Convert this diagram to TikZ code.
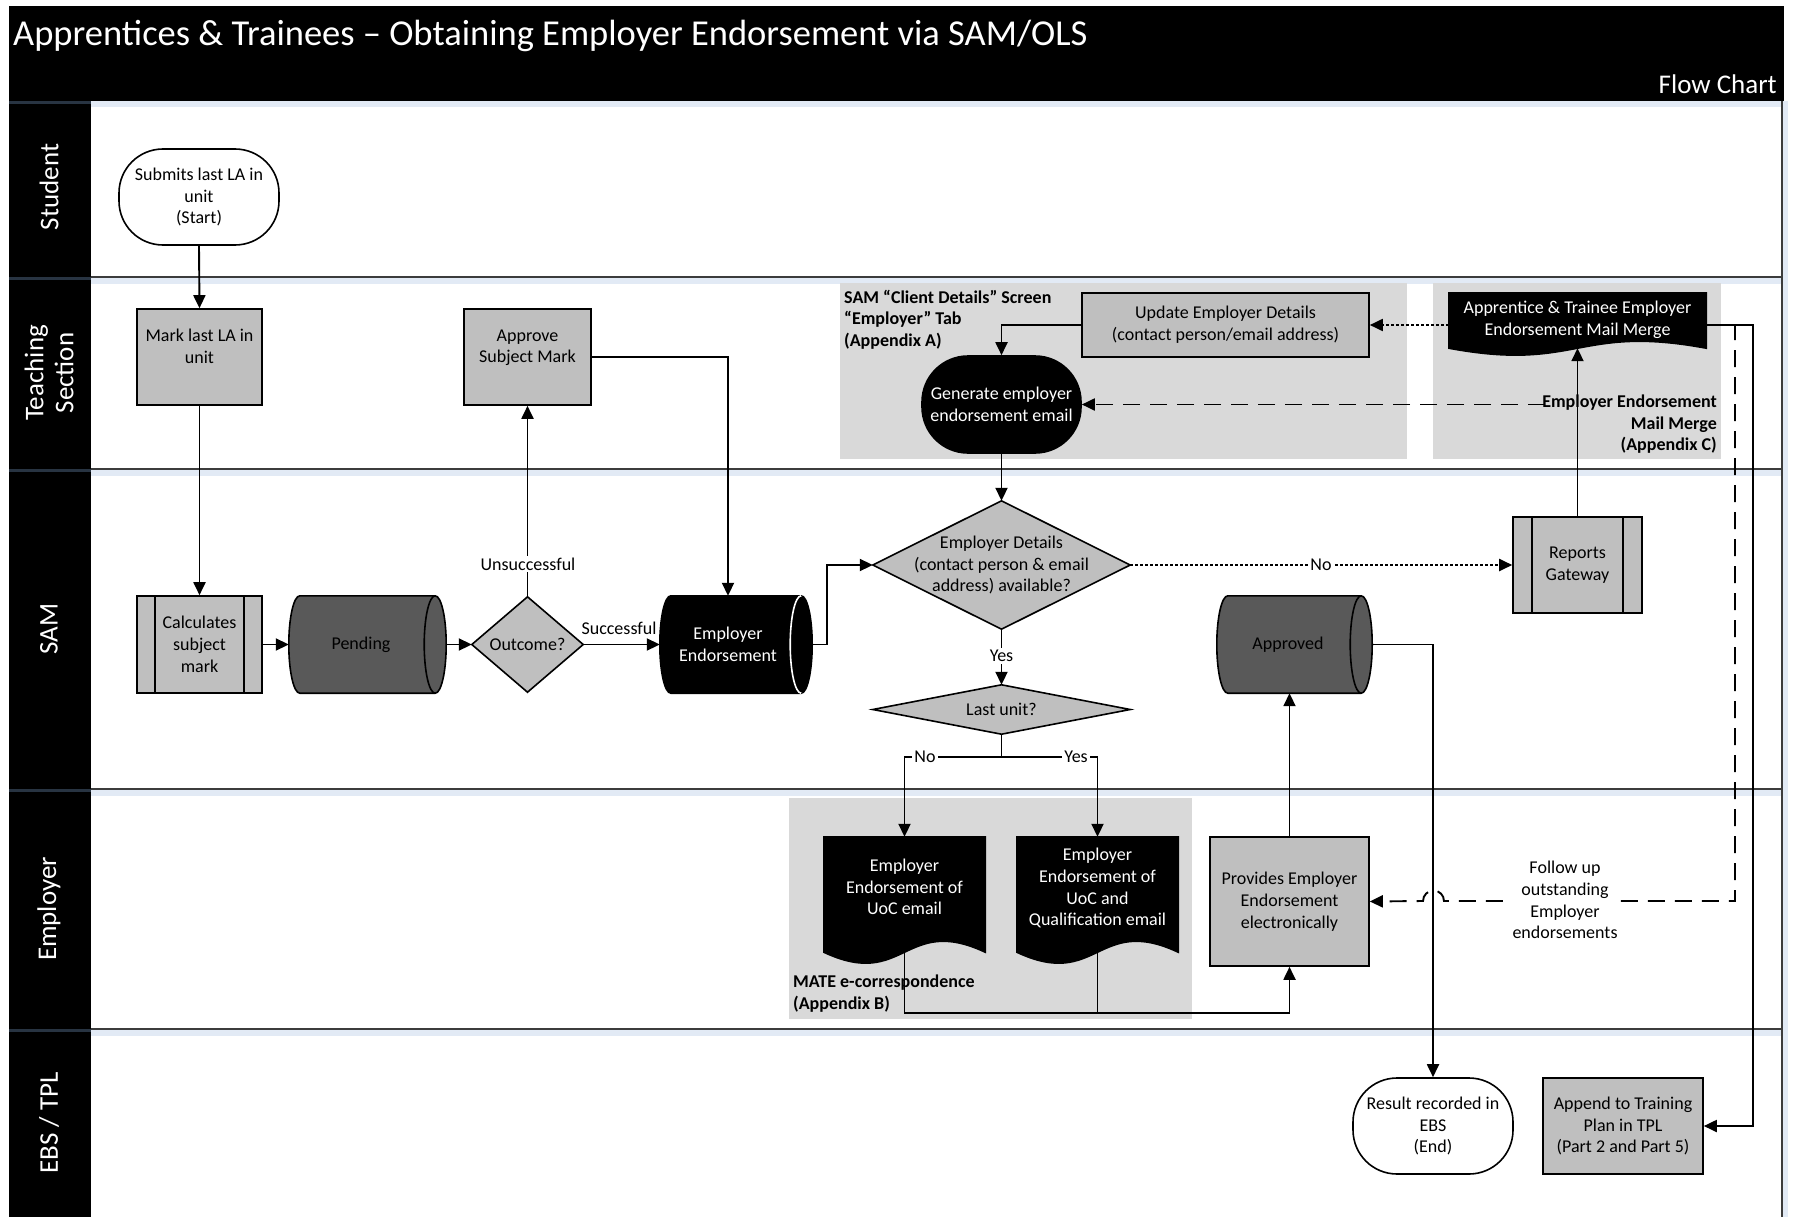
\documentclass[tikz,border=0pt]{standalone}
\usepackage{fontspec}
\setmainfont{Carlito}
\usetikzlibrary{arrows.meta,calc}
\definecolor{boxgray}{RGB}{191,191,191}
\definecolor{grpgray}{RGB}{217,217,217}
\definecolor{darkcyl}{RGB}{89,89,89}
\definecolor{laneline}{RGB}{60,60,60}
\definecolor{shadowblue}{RGB}{226,234,245}
\definecolor{hdrsep}{RGB}{40,52,66}
\pgfdeclarelayer{back}
\pgfdeclarelayer{bg}
\pgfsetlayers{back,bg,main}

\newcommand\cylshape[3]{%
  \draw[fill=#2, draw=black, line width=1.6pt] let \p1=(#1.north west), \p2=(#1.south east), \n1={(\y1-\y2)/2} in
    (\x1+11pt,\y1) -- (\x2-11pt,\y1)
    arc[start angle=90, end angle=-90, x radius=11pt, y radius=\n1]
    -- (\x1+11pt,\y2)
    arc[start angle=270, end angle=90, x radius=11pt, y radius=\n1]
    -- cycle;
  \draw[draw=#3, line width=1.6pt] let \p1=(#1.north west), \p2=(#1.south east), \n1={(\y1-\y2)/2} in
    (\x2-11pt,\y1) arc[start angle=90, end angle=270, x radius=11pt, y radius=\n1];
}
\newcommand\docshape[3]{%
  \draw[fill=#2, draw=black, line width=1.6pt] let \p1=(#1.north west), \p2=(#1.south east), \n1={(\x1+\x2)/2} in
    (\x1,\y1) -- (\x2,\y1) -- (\x2,\y2) .. controls (\n1,\y2+#3) and (\n1,\y2-#3) .. (\x1,\y2) -- cycle;
}
\newcommand\diashape[1]{%
  \draw[fill=boxgray, draw=black, line width=1.6pt] (#1.north) -- (#1.east) -- (#1.south) -- (#1.west) -- cycle;
}

\begin{document}
\begin{tikzpicture}[x=1pt,y=-1pt,
  every node/.style={font=\fontsize{18}{21.7}\selectfont, align=center, inner sep=0pt},
  shp/.style={draw=black, line width=1.6pt},
  gbox/.style={shp, fill=boxgray},
  term/.style={shp, rounded corners=44pt, fill=white},
  conn/.style={line width=1.9pt, -{Triangle[length=13pt,width=12pt]}},
  plain/.style={line width=1.9pt},
  dashedline/.style={dash pattern=on 17pt off 10pt},
  dottedline/.style={dash pattern=on 2.5pt off 2.5pt},
  clab/.style={fill=white, inner sep=2pt},
  grplab/.style={font=\bfseries\fontsize{18}{21.5}\selectfont},
  lanelab/.style={text=white, rotate=90, font=\fontsize{27}{30}\selectfont}]

\useasboundingbox (0,0) rectangle (1793,1217);

% ---------- background / lanes ----------
\begin{pgfonlayer}{back}
  \fill[white] (0,0) rectangle (1793,1217);
  \fill[black] (9,6) rectangle (1784,101);
  \fill[shadowblue] (91,101) rectangle (1782,107);
  \foreach \yy in {277,469,789,1029} {
    \fill[shadowblue] (91,\yy) rectangle (1782,\yy+7);
    \draw[laneline, line width=1.8pt] (91,\yy) -- (1782,\yy);
  }
  \fill[shadowblue] (1782,101) rectangle (1788,1217);
  \draw[laneline, line width=1.8pt] (1782,101) -- (1782,1217);
  \fill[black] (9,101) rectangle (91,1217);
  \foreach \yy in {101,277,469,789,1029} {
    \draw[hdrsep, line width=3pt] (9,\yy+1.5) -- (91,\yy+1.5);
  }
  \fill[grpgray] (840,283) rectangle (1407,459);
  \fill[grpgray] (1433,283) rectangle (1721,459);
  \fill[grpgray] (789,798) rectangle (1192,1019);
\end{pgfonlayer}

% ---------- titles ----------
\node[text=white, anchor=west, font=\fontsize{36.5}{42}\selectfont] (title) at (13,36) {Apprentices \& Trainees – Obtaining Employer Endorsement via SAM/OLS};
\node[text=white, anchor=east, font=\fontsize{27}{30}\selectfont] (fc) at (1777,84) {Flow Chart};

\node[lanelab] (lStudent) at (49,187) {Student};
\node[lanelab] (lTeach) at (49,373) {Teaching\\Section};
\node[lanelab] (lSAM) at (49,629) {SAM};
\node[lanelab] (lEmp) at (49,909) {Employer};
\node[lanelab] (lEBS) at (49,1123) {EBS / TPL};

% ---------- group labels ----------
\node[grplab, anchor=north west, align=left] (gA) at (844,290) {SAM “Client Details” Screen\\“Employer” Tab\\(Appendix A)};
\node[grplab, anchor=north east, align=right] (gC) at (1717,395) {Employer Endorsement\\Mail Merge\\(Appendix C)};
\node[grplab, anchor=north west, align=left] (gB) at (793,975) {MATE e-correspondence\\(Appendix B)};

% ---------- nodes ----------
\node[term, minimum width=160pt, minimum height=96pt] (start) at (199,197) {Submits last LA in\\unit\\(Start)};
\node[gbox, minimum width=125pt, minimum height=96pt] (mark) at (199.5,357) {Mark last LA in\\unit\\\mbox{}};
\node[gbox, minimum width=127pt, minimum height=96pt] (approve) at (527.5,357) {Approve\\Subject Mark\\\mbox{}};
\node[gbox, minimum width=125pt, minimum height=97pt] (calc) at (199.5,644.5) {Calculates\\subject\\mark};
\draw[shp] ([xshift=19pt]calc.north west) -- ([xshift=19pt]calc.south west);
\draw[shp] ([xshift=-19pt]calc.north east) -- ([xshift=-19pt]calc.south east);

\node[minimum width=157pt, minimum height=97pt] (pending) at (367.5,644.5) {};
\node (tpending) at (361,644.5) {Pending};
\node[minimum width=111pt, minimum height=95pt] (outcome) at (527.5,644.5) {Outcome?};
\node[minimum width=152pt, minimum height=97pt] (empend) at (736,644.5) {};
\node[text=white] (tempend) at (728,644.5) {Employer\\Endorsement};

\node[minimum width=257pt, minimum height=128pt] (edet) at (1001.5,565) {Employer Details\\(contact person \& email\\address) available?};
\node[minimum width=257pt, minimum height=49pt] (lastu) at (1001.5,709.5) {Last unit?};

\node[gbox, minimum width=129pt, minimum height=96pt] (reports) at (1577.5,565) {Reports\\Gateway};
\draw[shp] ([xshift=20pt]reports.north west) -- ([xshift=20pt]reports.south west);
\draw[shp] ([xshift=-20pt]reports.north east) -- ([xshift=-20pt]reports.south east);

\node[minimum width=155pt, minimum height=97pt] (approved) at (1294.5,644.5) {};
\node (tapproved) at (1288,644.5) {Approved};

\node[gbox, minimum width=287pt, minimum height=64pt] (update) at (1225.5,325) {Update Employer Details\\(contact person/email address)};
\node[shp, fill=black, text=white, rounded corners=46pt, minimum width=159pt, minimum height=97pt] (gen) at (1001.5,404.5) {Generate employer\\endorsement email};

\node[text=white, minimum width=257pt, minimum height=55pt] (mm) at (1577.5,320.5) {Apprentice \& Trainee Employer\\Endorsement Mail Merge\\[-17pt]};

\node[text=white, minimum width=161pt, minimum height=115pt] (doc1) at (904.5,894.5) {Employer\\Endorsement of\\UoC email\\[-6.7pt]};
\node[text=white, minimum width=161pt, minimum height=115pt] (doc2) at (1097.5,894.5) {Employer\\Endorsement of\\UoC and\\Qualification email\\[-6.7pt]};

\node[gbox, minimum width=159pt, minimum height=129pt] (provides) at (1289.5,901.5) {Provides Employer\\Endorsement\\electronically};

\node[term, minimum width=160pt, minimum height=96pt] (result) at (1433,1126) {Result recorded in\\EBS\\(End)};
\node[gbox, minimum width=160pt, minimum height=96pt] (append) at (1623,1126) {Append to Training\\Plan in TPL\\(Part 2 and Part 5)};

% ---------- custom shapes ----------
\begin{pgfonlayer}{bg}
  \cylshape{pending}{darkcyl}{black}
  \cylshape{empend}{black}{white}
  \cylshape{approved}{darkcyl}{black}
  \diashape{outcome}
  \diashape{edet}
  \diashape{lastu}
  \docshape{mm}{black}{24pt}
  \docshape{doc1}{black}{38pt}
  \docshape{doc2}{black}{38pt}
\end{pgfonlayer}

% ---------- connectors ----------
\draw[conn] (start.south) -- (mark.north);
\draw[conn] (mark.south) -- (calc.north);
\draw[conn] (calc.east) -- (pending.west);
\draw[conn] (pending.east) -- (outcome.west);
\draw[conn] (outcome.north) -- (approve.south);
\node[clab] (lunsucc) at (528,564) {Unsuccessful};
\draw[conn] (outcome.east) -- (empend.west);
\node (lsucc) at (619,628) {Successful};
\draw[conn] (approve.east) -| ([xshift=-8pt]empend.north);
\draw[conn] (empend.east) -- ++(15,0) |- (edet.west);
\draw[conn] (update.west) -| (gen.north);
\draw[conn] (gen.south) -- (edet.north);
\draw[conn, dottedline] (edet.east) -- (reports.west);
\node[clab] (lno1) at (1321,565) {No};
\draw[conn] (edet.south) -- (lastu.north);
\node[clab] (lyes1) at (1001.5,656) {Yes};
\coordinate (lub) at (1001.5,757);
\draw[plain] (lastu.south) -- (lub);
\draw[conn] (lub) -| (doc1.north);
\draw[conn] (lub) -| (doc2.north);
\node[clab] (lno2) at (925,757) {No};
\node[clab] (lyes2) at (1076,757) {Yes};

\coordinate (join) at (1289.5,1013);
\draw[conn] (doc1.south) |- (join) -- (provides.south);
\draw[plain] (doc2.south) -- (doc2.south |- join);
\draw[conn] (provides.north) -- (provides.north |- approved.south);
\draw[conn] (approved.east) -| (result.north);
\draw[conn] (reports.north) -- (mm.south);
\draw[conn, dottedline] (mm.west |- update.east) -- (update.east);
\coordinate (mmr) at (1753,1126);
\draw[conn] (mm.east |- update.east) -| (mmr) -- (append.east);
\coordinate (fuc) at (1735,901);
\coordinate (jmp) at (1444,901);
\draw[conn, dashedline] (mm.east |- update.east) -| (fuc) -- (jmp) arc[start angle=0, end angle=180, radius=10.5pt] -- (provides.east);
\coordinate (mmlab) at (1545,404.5);
\draw[conn, dashedline] (mmlab) -- (gen.east);
\node[clab] (fu) at (1565,900) {Follow up\\outstanding\\Employer\\endorsements};
\end{tikzpicture}
\end{document}
